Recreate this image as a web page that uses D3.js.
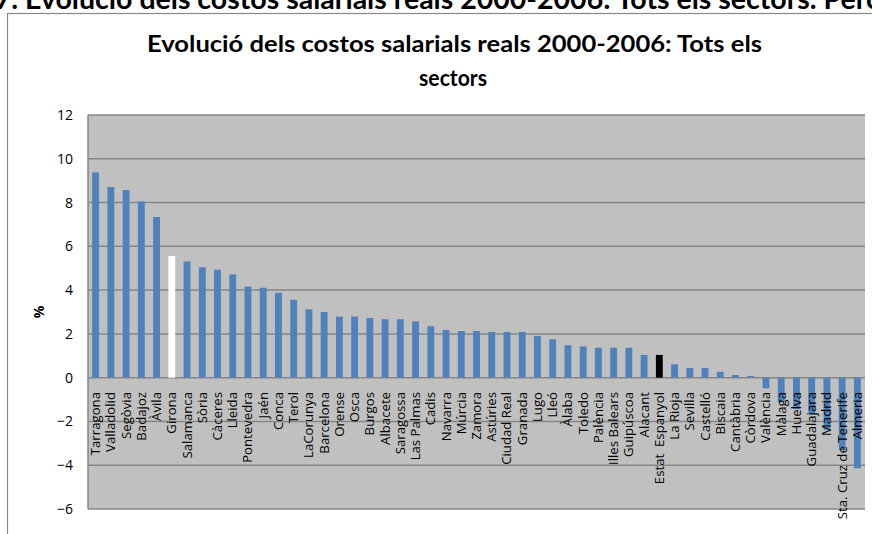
<!DOCTYPE html>
<html><head><meta charset="utf-8">
<script src="https://cdn.jsdelivr.net/npm/d3@7"></script>
<style>body{margin:0;background:#fff;}svg{display:block;}</style>
</head><body>
<script>
const categories = ["Tarragona","Valladolid","Segòvia","Badajoz","Àvila","Girona","Salamanca","Sòria","Càceres","Lleida","Pontevedra","Jaén","Conca","Terol","LaCorunya","Barcelona","Orense","Osca","Burgos","Albacete","Saragossa","Las Palmas","Cadis","Navarra","Múrcia","Zamora","Astúries","Ciudad Real","Granada","Lugo","Lleó","Àlaba","Toledo","Palència","Illes Balears","Guipúscoa","Alacant","Estat  Espanyol","La Rioja","Sevilla","Castelló","Biscaia","Cantàbria","Còrdova","València","Màlaga","Huelva","Guadalajara","Madrid","Sta. Cruz de Tenerife","Almeria"];
const values = [9.38,8.71,8.57,8.05,7.34,5.56,5.31,5.04,4.93,4.72,4.16,4.11,3.88,3.56,3.12,3.00,2.79,2.79,2.73,2.67,2.67,2.57,2.35,2.18,2.13,2.13,2.09,2.09,2.09,1.90,1.75,1.48,1.43,1.37,1.37,1.37,1.04,1.04,0.61,0.44,0.44,0.27,0.12,0.08,-0.49,-1.12,-1.43,-1.63,-2.39,-3.3,-4.14];
const highlight = {"Girona":"#ffffff","Estat  Espanyol":"#000000"};
const yTicks = [-6,-4,-2,0,2,4,6,8,10,12];
const title1 = "Evolució dels costos salarials reals 2000-2006: Tots els";
const title2 = "sectors";
const headerPrefix = "F7. ";
const headerMain = "Evolució dels costos salarials reals 2000-2006: Tots els sectors.";
const headerRest = " Percentatge";
const yLabel = "%";

const W = 872, H = 534;
const svg = d3.select("body").append("svg").attr("width",W).attr("height",H);

// header (cropped at the top of the picture, as in the reference)
const hFont = "Lato, 'Open Sans', sans-serif";
const hdr = svg.append("text").attr("y",9)
  .attr("font-family",hFont).attr("font-weight","bold").attr("font-size",20).attr("fill","#000");
const tPre = hdr.append("tspan").text(headerPrefix);
const tMain = hdr.append("tspan").text(headerMain);
hdr.append("tspan").text(headerRest);
const preW = tPre.node().getComputedTextLength();
const mainW = tMain.node().getComputedTextLength();
const scaleH = 792 / mainW;
hdr.attr("font-size", 20*scaleH).attr("x", 25 - preW*scaleH);

// outer chart border
svg.append("rect").attr("x",7.5).attr("y",13.5).attr("width",W+10).attr("height",H+10)
  .attr("fill","#fff").attr("stroke","#888").attr("stroke-width",1.2);

const x = d3.scaleBand().domain(categories).range([88,865]).paddingInner(0.55).paddingOuter(0.275);
const y = d3.scaleLinear().domain([-6,12]).range([509,115]);

svg.append("rect").attr("x",88).attr("y",115).attr("width",777).attr("height",394).attr("fill","#c0c0c0");

// gridlines
svg.append("g").selectAll("line").data(yTicks).join("line")
  .attr("x1",88).attr("x2",865).attr("y1",d=>y(d)).attr("y2",d=>y(d))
  .attr("stroke","#868686").attr("stroke-width",1.5);

// left axis line
svg.append("line").attr("x1",88).attr("x2",88).attr("y1",115).attr("y2",509).attr("stroke","#868686").attr("stroke-width",1.5);

// y axis labels
const yAxis = d3.axisLeft(y).tickValues(yTicks).tickSize(0).tickPadding(15);
const ga = svg.append("g").attr("transform","translate(88,0)").call(yAxis);
ga.select(".domain").remove();
ga.selectAll("text").attr("font-family","'Open Sans', sans-serif").attr("font-size",14).attr("fill","#000");

svg.append("text").attr("transform","translate(44,312) rotate(-90)").attr("text-anchor","middle")
  .attr("font-family","'Open Sans', sans-serif").attr("font-weight","bold").attr("font-size",14).text(yLabel);

// bars
svg.append("g").selectAll("rect").data(categories).join("rect")
  .attr("x",d=>x(d)).attr("width",x.bandwidth())
  .attr("y",(d,i)=>y(Math.max(0,values[i])))
  .attr("height",(d,i)=>Math.abs(y(values[i])-y(0)))
  .attr("fill",d=>highlight[d]||"#4f81bd");

// category labels
const labStart = 392;
const labs = svg.append("g").selectAll("text").data(categories).join("text")
  .attr("transform",d=>`translate(${x(d)+x.bandwidth()/2+4.5},${labStart}) rotate(-90)`)
  .attr("text-anchor","end")
  .attr("font-family","'Open Sans', sans-serif").attr("font-size",13.2).attr("fill","#000")
  .attr("xml:space","preserve")
  .text(d=>d);
labs.each(function(){
  const maxL = H - 4 - labStart;
  if (this.getComputedTextLength() > maxL) {
    d3.select(this).attr("textLength",maxL).attr("lengthAdjust","spacingAndGlyphs");
  }
});

// title
const tg = svg.append("g").attr("font-family","Lato, 'Open Sans', sans-serif").attr("font-weight","bold").attr("font-size",22).attr("fill","#000");
tg.append("text").attr("x",454.5).attr("y",52).attr("text-anchor","middle").attr("textLength",615).attr("lengthAdjust","spacingAndGlyphs").text(title1);
tg.append("text").attr("x",453).attr("y",86).attr("text-anchor","middle").attr("textLength",68).attr("lengthAdjust","spacingAndGlyphs").text(title2);
</script>
</body></html>
